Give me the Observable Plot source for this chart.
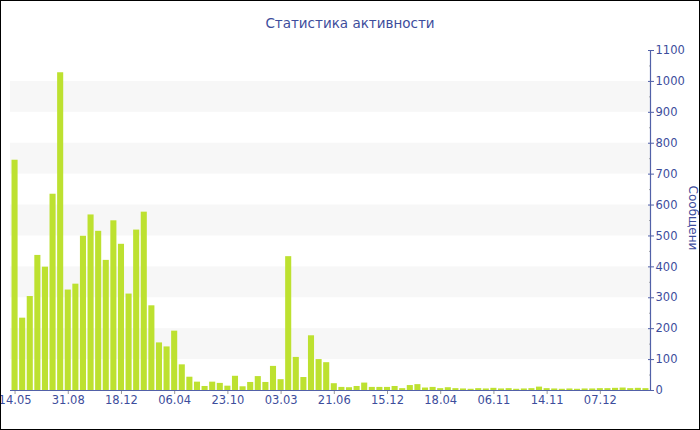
<!DOCTYPE html>
<html>
<head>
<meta charset="utf-8">
<script src="https://cdn.jsdelivr.net/npm/d3@7"></script>
<script src="https://cdn.jsdelivr.net/npm/@observablehq/plot@0.6"></script>
<style>
  html, body { margin: 0; padding: 0; background: #fff; }
  #wrap { position: relative; width: 700px; height: 430px; overflow: hidden; background: #fff; font-family: "DejaVu Sans", Verdana, sans-serif; }
  #title { position: absolute; left: 0; top: 15px; width: 700px; text-align: center; font-size: 13.5px; color: #3d4d9c; }
  #chart { position: absolute; left: 0; top: 0; }
  #ylabel { position: absolute; left: 693px; top: 218px; transform: translate(-50%, -50%) rotate(90deg); font-size: 12px; color: #3d4d9c; white-space: nowrap; }
  #border { position: absolute; left: 0; top: 0; width: 700px; height: 430px; box-sizing: border-box; border: 1px solid #000; pointer-events: none; }
</style>
</head>
<body>
<div id="wrap">
  <div id="chart"></div>
  <div id="title">Статистика активности</div>
  <div id="ylabel"></div>
  <div id="border"></div>
</div>
<script>
// Values per period (messages)
const values = [745,234,304,437,399,635,1028,325,344,499,568,515,421,549,473,
  312,519,577,274,154,141,192,83,43,27,13,27,23,14,46,
  12,26,45,26,78,35,433,107,42,177,100,90,22,
  10,9,13,24,10,10,10,13,6,16,19,8,10,6,9,
  6,5,4,6,5,7,5,6,4,5,6,11,6,5,4,5,4,5,5,6,6,7,8,6,7,6];
// Tick labels, one every 7 bars
const tickLabels = ["14.05","31.08","18.12","06.04","23.10","03.03","21.06","15.12","18.04","06.11","14.11","07.12"];
const tickEvery = 7;
const yTicks = [0,100,200,300,400,500,600,700,800,900,1000,1100];
const yMinor = [50,150,250,350,450,550,650,750,850,950,1050];
const bandStarts = [100,300,500,700,900];
const bandSize = 100;
const yLabel = "Сообщени";

document.getElementById("ylabel").textContent = yLabel;

const data = values.map((v, i) => ({i, v}));
const tickIdx = tickLabels.map((_, k) => k * tickEvery);
const blue = "#3d4d9c";
const axisBlue = "#5261a8";

const chart = Plot.plot({
  width: 700,
  height: 430,
  marginTop: 50,
  marginRight: 50,
  marginBottom: 40,
  marginLeft: 10,
  style: {fontFamily: "DejaVu Sans, Verdana, sans-serif", fontSize: "11.5px", color: blue, background: "transparent"},
  x: {type: "band", domain: d3.range(values.length), padding: 0.2, axis: null},
  y: {domain: [0, 1100], axis: null},
  marks: [
    Plot.rect(bandStarts, {y1: d => d, y2: d => d + bandSize, fill: "#f7f7f7"}),
    Plot.barY(data, {x: "i", y: "v", fill: "#bde130"}),
    Plot.axisX({ticks: tickIdx, tickFormat: i => tickLabels[i / tickEvery], tickSize: 4, tickPadding: 1, stroke: "#999", fill: blue, label: null}),
    Plot.ruleY([0], {stroke: axisBlue, strokeWidth: 1.2}),
    Plot.axisY({anchor: "right", ticks: yMinor, tickSize: -2, text: null, stroke: "#aaa", label: null}),
    Plot.axisY({anchor: "right", ticks: yTicks, tickSize: -3, text: null, stroke: axisBlue, label: null}),
    Plot.axisY({anchor: "right", ticks: yTicks, tickSize: 3, tickPadding: 2, tickFormat: d3.format("d"), stroke: axisBlue, fill: blue, label: null}),
    Plot.frame({anchor: "right", stroke: axisBlue, strokeWidth: 1.2})
  ]
});
document.getElementById("chart").appendChild(chart);
</script>
</body>
</html>
